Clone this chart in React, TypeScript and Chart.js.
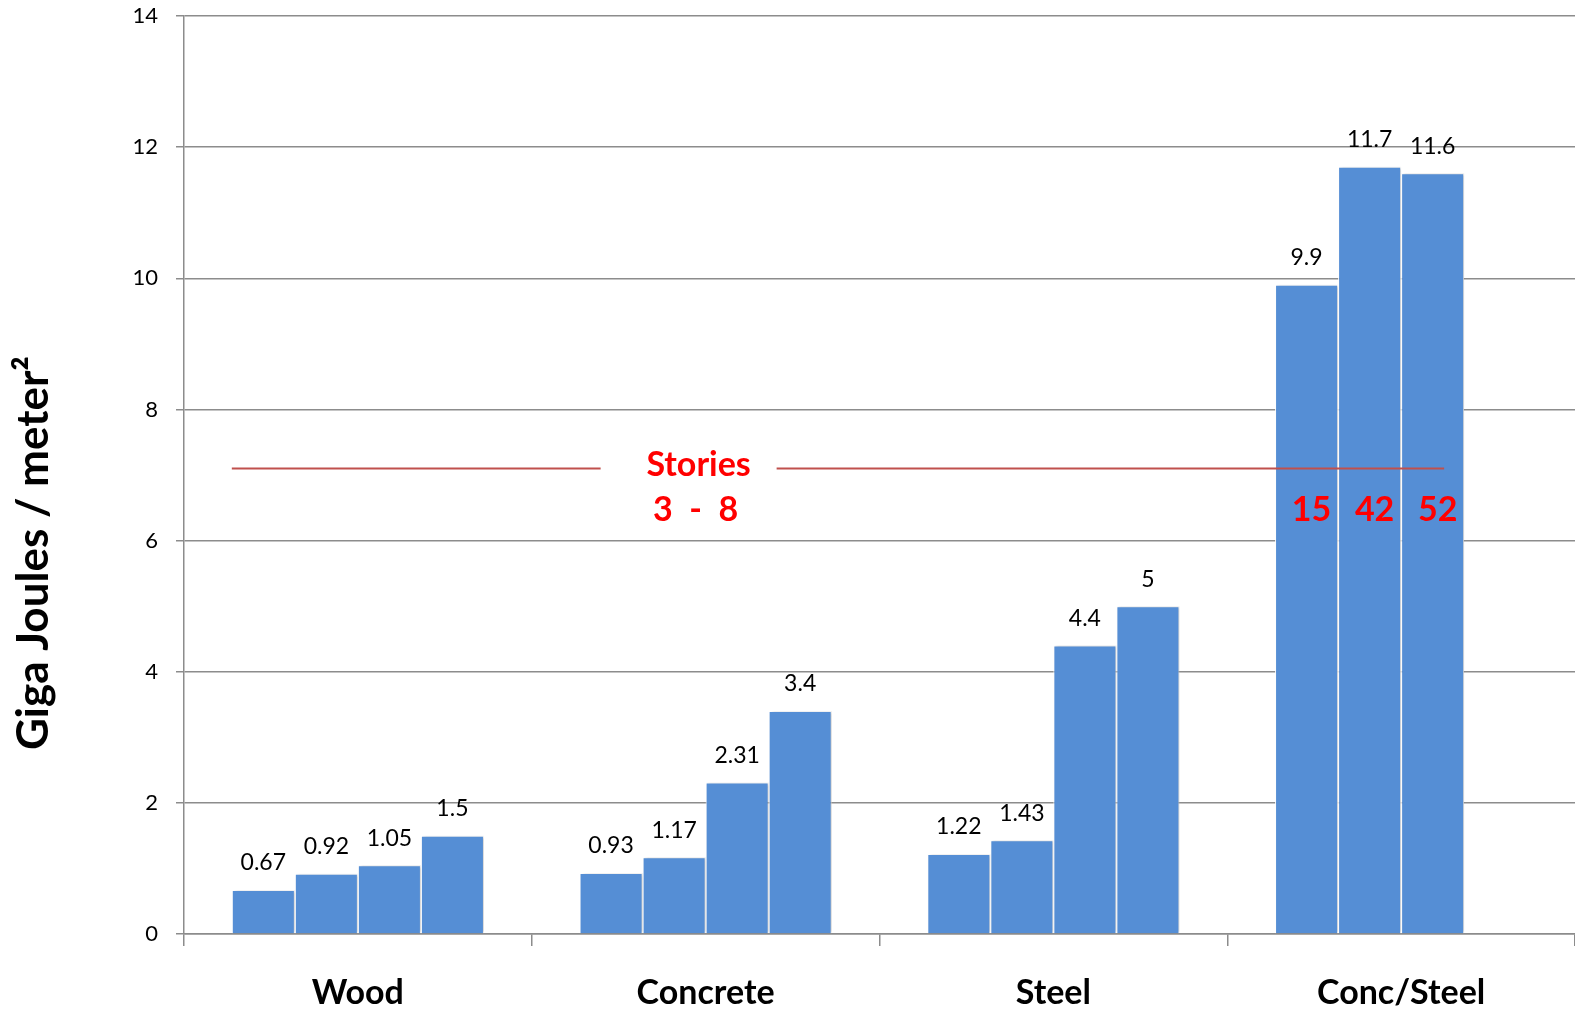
import React, { useEffect, useRef } from 'react';
import { Chart, registerables } from 'chart.js';

Chart.register(...registerables);

// Embodied energy per floor area, by structural material
const categories = ['Wood', 'Concrete', 'Steel', 'Conc/Steel'];
const seriesA = [0.67, 0.93, 1.22, 9.9];
const seriesB = [0.92, 1.17, 1.43, 11.7];
const seriesC = [1.05, 2.31, 4.4, 11.6];
const seriesD: (number | null)[] = [1.5, 3.4, 5, null];

const yMin = 0;
const yMax = 14;
const yStep = 2;

// Height band marker and building story counts
const storiesLevel = 7.1;
const storiesLabel = 'Stories';
const lowRiseRange = '3  -  8';
const highRiseStories = ['15', '42', '52'];
const yTitle = 'Giga Joules / meter²';

const BAR_COLOR = '#558ED5';
const GRID_COLOR = '#8c8c8c';
const FONT = 'Lato, "Open Sans", sans-serif';

const barShadow = {
  id: 'barShadow',
  beforeDatasetsDraw(chart: any) {
    const ctx = chart.ctx;
    ctx.save();
    ctx.shadowColor = 'rgba(0,0,0,0.22)';
    ctx.shadowBlur = 3;
    ctx.shadowOffsetX = 2;
    ctx.shadowOffsetY = 0;
  },
  afterDatasetsDraw(chart: any) {
    chart.ctx.restore();
  },
};

const valueLabels = {
  id: 'valueLabels',
  afterDatasetsDraw(chart: any) {
    const ctx = chart.ctx;
    ctx.save();
    ctx.fillStyle = '#000';
    ctx.font = `23px ${FONT}`;
    ctx.textAlign = 'center';
    ctx.textBaseline = 'middle';
    chart.data.datasets.forEach((ds: any, di: number) => {
      const meta = chart.getDatasetMeta(di);
      meta.data.forEach((el: any, i: number) => {
        const v = ds.data[i];
        if (v === null || v === undefined) return;
        ctx.fillText(String(v), el.x, el.y - 27);
      });
    });
    ctx.restore();
  },
};

const annotations = {
  id: 'annotations',
  afterDatasetsDraw(chart: any) {
    const ctx = chart.ctx;
    const y = chart.scales.y;
    const x = chart.scales.x;
    const area = chart.chartArea;
    const lineY = y.getPixelForValue(storiesLevel);
    const first = chart.getDatasetMeta(0).data[0];
    const lastGroup = chart.getDatasetMeta(2).data[3];
    const startX = first.x - first.width / 2;
    const endX = lastGroup.x + lastGroup.width / 2 - 20;
    const labelX = x.getPixelForValue(1) - 7;

    ctx.save();
    ctx.strokeStyle = '#C0504D';
    ctx.lineWidth = 2;
    ctx.beginPath();
    ctx.moveTo(startX, lineY);
    ctx.lineTo(labelX - 98, lineY);
    ctx.moveTo(labelX + 78, lineY);
    ctx.lineTo(endX, lineY);
    ctx.stroke();

    ctx.fillStyle = '#FF0000';
    ctx.font = `bold 34px ${FONT}`;
    ctx.textAlign = 'center';
    ctx.textBaseline = 'middle';
    ctx.fillText(storiesLabel, labelX, lineY - 3);
    ctx.fillText(lowRiseRange, labelX - 3, lineY + 42);
    highRiseStories.forEach((s, i) => {
      const el = chart.getDatasetMeta(i).data[3];
      ctx.fillText(s, el.x + 5, lineY + 42);
    });

    // rotated y-axis title
    ctx.fillStyle = '#000';
    ctx.font = `bold 44px ${FONT}`;
    ctx.translate(34, area.top + (area.bottom - area.top) * 0.585);
    ctx.rotate(-Math.PI / 2);
    ctx.fillText(yTitle, 0, 0);
    ctx.restore();
  },
};

export default function App() {
  const ref = useRef<HTMLCanvasElement | null>(null);

  useEffect(() => {
    document.body.style.margin = '0';
    if (!ref.current) return;
    const mk = (data: (number | null)[]) => ({
      data,
      backgroundColor: BAR_COLOR,
      borderColor: '#ffffff',
      borderWidth: 1,
      borderSkipped: 'bottom' as const,
      categoryPercentage: 0.725,
      barPercentage: 1.0,
    });
    const chart = new Chart(ref.current, {
      type: 'bar',
      data: {
        labels: categories,
        datasets: [mk(seriesA), mk(seriesB), mk(seriesC), mk(seriesD)],
      },
      options: {
        animation: false,
        responsive: true,
        maintainAspectRatio: false,
        layout: { padding: { top: 16, right: 0, left: 0, bottom: 0 } },
        plugins: {
          legend: { display: false },
          tooltip: { enabled: false },
        },
        scales: {
          x: {
            grid: {
              offset: true,
              drawOnChartArea: false,
              drawTicks: true,
              tickLength: 12,
              color: GRID_COLOR,
              lineWidth: 1.5,
            },
            border: { display: true, color: GRID_COLOR, width: 1.5 },
            ticks: {
              color: '#000',
              font: { family: FONT, size: 34, weight: 'bold' },
              padding: 27,
            },
            afterFit(scale: any) {
              scale.height = 77;
              scale.paddingLeft = 0;
              scale.paddingRight = 0;
            },
          },
          y: {
            min: yMin,
            max: yMax,
            ticks: {
              stepSize: yStep,
              color: '#000',
              font: { family: FONT, size: 22 },
              padding: 18,
            },
            grid: {
              color: GRID_COLOR,
              lineWidth: 1.5,
              tickLength: 8,
            },
            border: { display: true, color: GRID_COLOR, width: 1.5 },
            afterFit(scale: any) {
              scale.width = 184;
              scale.paddingTop = 0;
              scale.paddingBottom = 0;
            },
          },
        },
      },
      plugins: [barShadow, valueLabels, annotations],
    });
    return () => chart.destroy();
  }, []);

  return (
    <div style={{ width: 1575, height: 1011, position: 'relative', background: '#fff' }}>
      <canvas ref={ref} />
    </div>
  );
}
